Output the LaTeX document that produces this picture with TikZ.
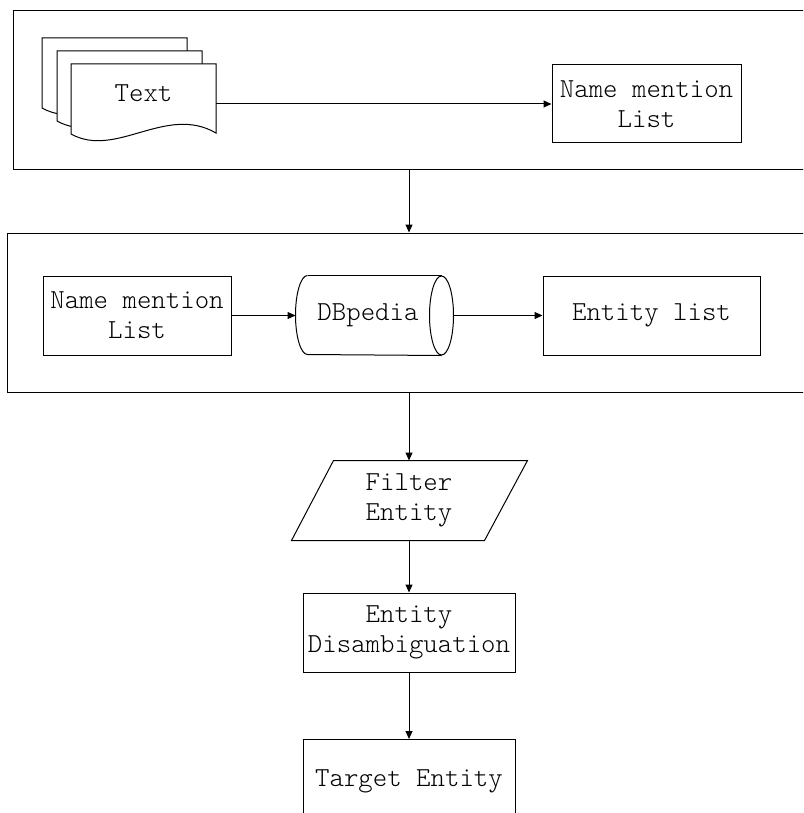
\documentclass[tikz,border=0pt]{standalone}
\usepackage{fontspec}
\setmonofont{Latin Modern Mono Light}
\usetikzlibrary{arrows.meta}
\begin{document}
\begin{tikzpicture}[x=1pt,y=-1pt,line width=1pt,
  every node/.style={font=\ttfamily\fontsize{27.5}{30}\selectfont, inner sep=0pt},
  box/.style={draw, line width=1pt, align=center},
  framebox/.style={draw, line width=1pt},
  docstyle/.style={draw, line width=1pt, fill=white},
  arr/.style={-{Triangle[length=8pt,width=7pt]}, line width=1pt},
  docpage/.pic={\draw[docstyle] (0,0) -- (145,0) -- (145,69) .. controls (95,40) and (45,95) .. (0,70) -- cycle;}]
\useasboundingbox (0,0) rectangle (803,813);
\clip (0,0) rectangle (803,813);

% frames
\node[framebox, minimum width=792pt, minimum height=159pt] (frame1) at (409,90.5) {};
\node[framebox, minimum width=804pt, minimum height=159pt] (frame2) at (409,312.5) {};

% document stack
\pic at (42,38) {docpage};
\pic at (57,51) {docpage};
\pic at (71,64) {docpage};
\node (doctext) at (143.5,93) {Text};
\coordinate (docout) at (216,104);

\node[box, minimum width=189pt, minimum height=78pt] (nml1) at (646.5,104) {Name mention\\List};

% second frame content
\node[box, minimum width=188pt, minimum height=79pt] (nml2) at (137,315.5) {Name mention\\List};
\node[minimum width=157pt, minimum height=79pt] (db) at (374.5,315.5) {\hspace*{-13pt}DBpedia};
\draw ([xshift=12pt]db.north west) arc[start angle=90, end angle=270, x radius=12pt, y radius=39.5pt] -- ([xshift=-12pt]db.south east);
\draw ([xshift=12pt]db.north west) -- ([xshift=-12pt]db.north east);
\draw ([xshift=-12pt]db.east) ellipse[x radius=12pt, y radius=39.5pt];
\node[box, minimum width=217pt, minimum height=79pt] (el) at (651.5,315.5) {Entity list};

% lower chain
\node[minimum width=150pt, minimum height=79pt, align=center] (filter) at (409,500.5) {Filter\\Entity};
\draw (filter.north west) -- ([xshift=43pt]filter.north east) -- (filter.south east) -- ([xshift=-42pt]filter.south west) -- cycle;
\node[box, minimum width=212pt, minimum height=79pt] (ed) at (409,632.5) {Entity\\Disambiguation};
\node[box, anchor=north, minimum width=212pt, minimum height=110pt, text height=20pt, text depth=36pt] (target) at (409,739) {Target Entity};

% connectors
\draw[arr] (docout) -- (nml1.west);
\draw[arr] (frame1.south) -- (frame2.north);
\draw[arr] (nml2.east) -- (db.west);
\draw[arr] (db.east) -- (el.west);
\draw[arr] (frame2.south) -- (filter.north);
\draw[arr] (filter.south) -- (ed.north);
\draw[arr] (ed.south) -- (target.north);
\end{tikzpicture}
\end{document}
